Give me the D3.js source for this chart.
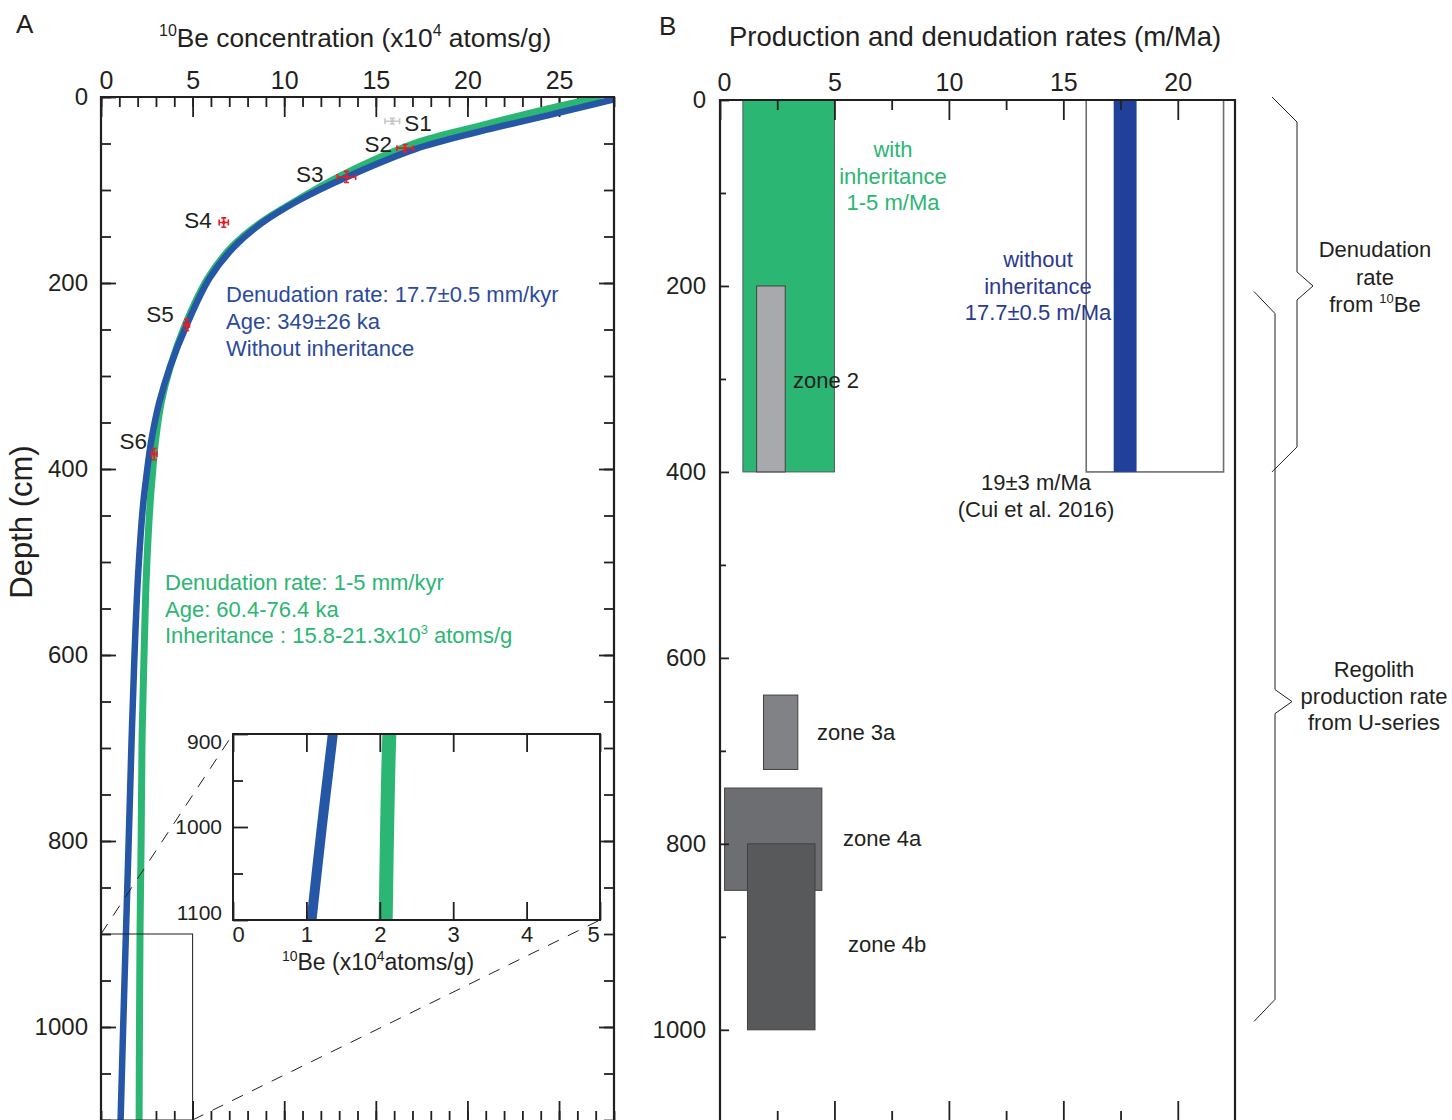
<!DOCTYPE html>
<html>
<head>
<meta charset="utf-8">
<script src="https://cdn.jsdelivr.net/npm/d3@7"></script>
<style>
  body { margin: 0; background: #fff; }
  svg { display: block; }
</style>
</head>
<body>
<div id="chart"></div>
<script>
const INK = "#231f20";
const FONT = "'Liberation Sans', Arial, Helvetica, sans-serif";

// ---- Panel A: 10Be depth profile (x10^4 atoms/g vs depth in cm)
const depthNoInheritance = [0, 7, 20, 37, 56, 87, 111, 136, 161, 195, 245, 290, 329, 369, 412, 440, 512, 584, 656, 691, 794, 900, 1000, 1100];
const concNoInheritance = [28.6, 27.06, 24.33, 20.69, 17.15, 13.3, 10.8, 8.75, 7.27, 5.92, 4.68, 3.77, 3.17, 2.75, 2.45, 2.29, 2.03, 1.86, 1.73, 1.67, 1.52, 1.36, 1.21, 1.07];
const depthWithInheritance = [0, 13, 31, 50, 85, 111, 136, 161, 195, 245, 290, 329, 369, 412, 440, 512, 584, 656, 691, 800, 900, 1000, 1100];
const concWithInheritance = [27.3, 24.33, 20.69, 17.1, 13.05, 10.7, 8.65, 7.15, 5.83, 4.6, 3.78, 3.28, 2.98, 2.78, 2.67, 2.48, 2.37, 2.28, 2.24, 2.19, 2.13, 2.1, 2.08];

const sampleNames = ["S1", "S2", "S3", "S4", "S5", "S6"];
const sampleConc = [15.9, 16.6, 13.4, 6.7, 4.68, 2.9];
const sampleDepth = [26, 55, 86, 135, 245, 384];
const sampleConcErr = [0.4, 0.45, 0.5, 0.25, 0.15, 0.15];
const sampleDepthErr = [3, 4, 6, 5, 6, 6];
const sampleUsed = [false, true, true, true, true, true];

const concTicks = [0, 5, 10, 15, 20, 25];
const depthTicks = [0, 200, 400, 600, 800, 1000];
const insetConcTicks = [0, 1, 2, 3, 4, 5];
const insetDepthTicks = [900, 1000, 1100];

// ---- Panel B: production and denudation rates (m/Ma) by depth
const zoneNames = ["with inheritance", "zone 2", "Cui et al. 2016", "without inheritance", "zone 3a", "zone 4a", "zone 4b"];
const zoneRateMin = [1, 1.6, 16, 17.2, 1.9, 0.2, 1.2];
const zoneRateMax = [5, 2.85, 22, 18.2, 3.4, 4.45, 4.15];
const zoneDepthTop = [0, 200, 0, 0, 640, 740, 800];
const zoneDepthBottom = [400, 400, 400, 400, 720, 850, 1000];

const rateTicks = [0, 5, 10, 15, 20];
const rateDepthTicks = [0, 200, 400, 600, 800, 1000];

// brackets on the right (depth ranges)
const braceTop = [0, 206];
const braceBottom = [400, 991];
const braceTip = [200, 647];

// styles
const zoneFill = {
  "with inheritance": "#2bb673", "zone 2": "#a7a9ac", "Cui et al. 2016": "#ffffff",
  "without inheritance": "#21409a", "zone 3a": "#808285", "zone 4a": "#6d6e71", "zone 4b": "#58595b"
};
const zoneStroke = {
  "with inheritance": "#58595b", "zone 2": "#414042", "Cui et al. 2016": "#6d6e71",
  "without inheritance": "none", "zone 3a": "#414042", "zone 4a": "#414042", "zone 4b": "#414042"
};
const GREEN = "#2bb673";
const BLUE_LINE = "#2656a6";
const BLUE_TEXT = "#2b4a9c";
const BLUE_BAR_TEXT = "#2b3990";
const RED = "#ed1c24";

const svg = d3.select("#chart").append("svg")
  .attr("width", 1452).attr("height", 1120)
  .style("font-family", FONT);
const defs = svg.append("defs");

// scales
const xA = d3.scaleLinear().domain([0, 28]).range([101, 614]);
const yA = d3.scaleLinear().domain([0, 1100]).range([97, 1120]);
const xI = d3.scaleLinear().domain([0, 5]).range([233, 600]);
const yI = d3.scaleLinear().domain([900, 1100]).range([734, 920]);
const xB = d3.scaleLinear().domain([0, 22.5]).range([720, 1235]);
const yB = d3.scaleLinear().domain([0, 1097]).range([100, 1120]);
const fmt = d3.format("d");

function drawAxis(axis, transform, fontSize) {
  const g = svg.append("g").attr("transform", transform).call(axis);
  g.select(".domain").remove();
  g.selectAll(".tick line").attr("stroke", INK).attr("stroke-width", 1.8);
  g.selectAll(".tick text").attr("fill", INK)
    .style("font-size", (fontSize || 10) + "px").style("font-family", FONT);
  return g;
}

// text with superscripts: parts beginning with ^ are raised
function richText(x, y, parts, size, anchor, fill) {
  const t = svg.append("text").attr("x", x).attr("y", y)
    .attr("text-anchor", anchor || "start").attr("fill", fill || INK)
    .style("font-size", size + "px");
  let up = false;
  parts.forEach(p => {
    const sup = p[0] === "^";
    const s = t.append("tspan").text(sup ? p.slice(1) : p);
    if (sup) {
      s.style("font-size", Math.round(size * 0.6) + "px").attr("dy", up ? 0 : -size * 0.4);
    } else {
      s.attr("dy", up ? size * 0.4 : 0);
    }
    up = sup;
  });
  return t;
}

function lines(x, y0, step, texts, size, anchor, fill) {
  texts.forEach((txt, i) => {
    svg.append("text").attr("x", x).attr("y", y0 + i * step)
      .attr("text-anchor", anchor).attr("fill", fill)
      .style("font-size", size + "px").text(txt);
  });
}

// ================= PANEL A =================
svg.append("text").attr("x", 16).attr("y", 33).style("font-size", "26px").attr("fill", INK).text("A");
richText(159, 47, ["^10", "Be concentration (x10", "^4", " atoms/g)"], 26.3, "start");
svg.append("text")
  .attr("transform", "translate(32,522) rotate(-90)")
  .attr("text-anchor", "middle").attr("fill", INK)
  .style("font-size", "31px").text("Depth (cm)");

// axes, ticks inward
drawAxis(d3.axisTop(xA).tickValues(d3.range(0, 29)).tickSize(-10).tickFormat(""), `translate(0,${yA(0)})`);
const topA = drawAxis(d3.axisTop(xA).tickValues(concTicks).tickSize(-20).tickPadding(8).tickFormat(fmt), `translate(0,${yA(0)})`, 25);
topA.selectAll(".tick text").filter(d => d === 0).attr("x", 5);
drawAxis(d3.axisBottom(xA).tickValues(d3.range(0, 29)).tickSize(-10).tickFormat(""), `translate(0,${yA(1100) + 1})`);
drawAxis(d3.axisBottom(xA).tickValues(concTicks.slice(1)).tickSize(-20).tickFormat(""), `translate(0,${yA(1100) + 1})`);
drawAxis(d3.axisLeft(yA).tickValues(d3.range(0, 1101, 50)).tickSize(-10).tickFormat(""), `translate(${xA(0)},0)`);
drawAxis(d3.axisLeft(yA).tickValues(depthTicks).tickSize(-15).tickPadding(13).tickFormat(fmt), `translate(${xA(0)},0)`, 24);
drawAxis(d3.axisRight(yA).tickValues(d3.range(0, 1101, 50)).tickSize(-10).tickFormat(""), `translate(${xA(28)},0)`);
drawAxis(d3.axisRight(yA).tickValues(depthTicks).tickSize(-15).tickFormat(""), `translate(${xA(28)},0)`);

defs.append("clipPath").attr("id", "clipA")
  .append("rect").attr("x", xA(0)).attr("y", yA(0))
  .attr("width", xA(28) - xA(0)).attr("height", yA(1100) - yA(0));

const profileNo = depthNoInheritance.map((z, i) => [z, concNoInheritance[i]]);
const profileWith = depthWithInheritance.map((z, i) => [z, concWithInheritance[i]]);

const lineA = d3.line().x(d => xA(d[1])).y(d => yA(d[0])).curve(d3.curveCatmullRom.alpha(0.5));
const curvesA = svg.append("g").attr("clip-path", "url(#clipA)");
curvesA.append("path").attr("d", lineA(profileWith)).attr("fill", "none")
  .attr("stroke", GREEN).attr("stroke-width", 7);
curvesA.append("path").attr("d", lineA(profileNo)).attr("fill", "none")
  .attr("stroke", BLUE_LINE).attr("stroke-width", 6.5);

// frame
svg.append("path")
  .attr("d", `M${xA(0)},${yA(1100) + 2}V${yA(0)}H${xA(28)}V${yA(1100) + 2}`)
  .attr("fill", "none").attr("stroke", INK).attr("stroke-width", 2.2);

// samples with error bars
const samples = sampleNames.map((n, i) => ({
  name: n, c: sampleConc[i], z: sampleDepth[i],
  ec: sampleConcErr[i], ez: sampleDepthErr[i], used: sampleUsed[i]
}));
const sg = svg.append("g");
samples.forEach(s => {
  const col = s.used ? RED : "#c7c8ca";
  const cx = xA(s.c), cy = yA(s.z);
  const x0 = xA(s.c - s.ec), x1 = xA(s.c + s.ec);
  const y0 = yA(s.z - s.ez), y1 = yA(s.z + s.ez);
  const g = sg.append("g").attr("stroke", col).attr("stroke-width", 1.6).attr("fill", "none");
  g.append("path").attr("d", `M${x0},${cy}H${x1}M${x0},${cy - 3}V${cy + 3}M${x1},${cy - 3}V${cy + 3}`);
  g.append("path").attr("d", `M${cx},${y0}V${y1}M${cx - 2.5},${y0}H${cx + 2.5}M${cx - 2.5},${y1}H${cx + 2.5}`);
  sg.append("circle").attr("cx", cx).attr("cy", cy).attr("r", 1.8).attr("fill", col);
});

// sample labels (offset from each point)
const labelDx = [12, -13, -23, -12, -13, -7];
const labelDy = [10, 4, 5, 5, -3, -5];
const labelAnchor = ["start", "end", "end", "end", "end", "end"];
samples.forEach((s, i) => {
  svg.append("text").attr("x", xA(s.c) + labelDx[i]).attr("y", yA(s.z) + labelDy[i])
    .attr("text-anchor", labelAnchor[i]).attr("fill", INK)
    .style("font-size", "22.5px").text(s.name);
});

// annotations
lines(226, 302, 27, ["Denudation rate: 17.7\u00b10.5 mm/kyr", "Age: 349\u00b126 ka", "Without inheritance"], 22, "start", BLUE_TEXT);
lines(165, 590, 26.5, ["Denudation rate: 1-5 mm/kyr", "Age: 60.4-76.4 ka"], 22, "start", GREEN);
richText(165, 643, ["Inheritance : 15.8-21.3x10", "^3", " atoms/g"], 22, "start", GREEN);

// zoom box and connectors
svg.append("rect").attr("x", xA(0)).attr("y", yA(900))
  .attr("width", xA(5) - xA(0)).attr("height", yA(1100) - yA(900))
  .attr("fill", "none").attr("stroke", INK).attr("stroke-width", 1);
svg.append("path")
  .attr("d", `M${xA(0)},${yA(900)}L${xI(0)},${yI(900)}M${xA(5)},${yA(1100)}L${xI(5)},${yI(1100)}`)
  .attr("fill", "none").attr("stroke", INK).attr("stroke-width", 1)
  .attr("stroke-dasharray", "12,10");

// inset
svg.append("rect").attr("x", xI(0)).attr("y", yI(900))
  .attr("width", xI(5) - xI(0)).attr("height", yI(1100) - yI(900)).attr("fill", "#fff");
defs.append("clipPath").attr("id", "clipI")
  .append("rect").attr("x", xI(0)).attr("y", yI(900))
  .attr("width", xI(5) - xI(0)).attr("height", yI(1100) - yI(900));
const lineI = d3.line().x(d => xI(d[1])).y(d => yI(d[0])).curve(d3.curveCatmullRom.alpha(0.5));
const curvesI = svg.append("g").attr("clip-path", "url(#clipI)");
curvesI.append("path").attr("d", lineI(profileWith.filter(d => d[0] >= 691)))
  .attr("fill", "none").attr("stroke", GREEN).attr("stroke-width", 14);
curvesI.append("path").attr("d", lineI(profileNo.filter(d => d[0] >= 691)))
  .attr("fill", "none").attr("stroke", BLUE_LINE).attr("stroke-width", 10);

const insetBottom = drawAxis(d3.axisBottom(xI).tickValues(insetConcTicks).tickSize(-18).tickPadding(6).tickFormat(fmt), `translate(0,${yI(1100)})`, 22);
insetBottom.selectAll(".tick text").filter(d => d === 0).attr("x", 5);
insetBottom.selectAll(".tick text").filter(d => d === 5).attr("x", -7);
drawAxis(d3.axisTop(xI).tickValues(insetConcTicks).tickSize(-18).tickFormat(""), `translate(0,${yI(900)})`);
drawAxis(d3.axisLeft(yI).tickValues([950, 1050]).tickSize(-10).tickFormat(""), `translate(${xI(0)},0)`);
const insetLeft = drawAxis(d3.axisLeft(yI).tickValues(insetDepthTicks).tickSize(-15).tickPadding(11).tickFormat(fmt), `translate(${xI(0)},0)`, 21);
insetLeft.selectAll(".tick text").filter(d => d === 900).attr("y", 8);
insetLeft.selectAll(".tick text").filter(d => d === 1100).attr("y", -7);
svg.append("rect").attr("x", xI(0)).attr("y", yI(900))
  .attr("width", xI(5) - xI(0)).attr("height", yI(1100) - yI(900))
  .attr("fill", "none").attr("stroke", INK).attr("stroke-width", 2);
richText(378, 970, ["^10", "Be (x10", "^4", "atoms/g)"], 23, "middle");

// ================= PANEL B =================
svg.append("text").attr("x", 659).attr("y", 35).style("font-size", "26px").attr("fill", INK).text("B");
svg.append("text").attr("x", 975).attr("y", 46).attr("text-anchor", "middle")
  .attr("fill", INK).style("font-size", "27.5px").text("Production and denudation rates (m/Ma)");

const zones = zoneNames.map((n, i) => ({
  name: n, r0: zoneRateMin[i], r1: zoneRateMax[i], d0: zoneDepthTop[i], d1: zoneDepthBottom[i]
}));
svg.append("g").selectAll("rect").data(zones).join("rect")
  .attr("x", d => xB(d.r0)).attr("y", d => yB(d.d0))
  .attr("width", d => xB(d.r1) - xB(d.r0)).attr("height", d => yB(d.d1) - yB(d.d0))
  .attr("fill", d => zoneFill[d.name]).attr("stroke", d => zoneStroke[d.name])
  .attr("stroke-width", d => d.name === "Cui et al. 2016" ? 1.6 : 1);

drawAxis(d3.axisTop(xB).tickValues(d3.range(2.5, 22.5, 5)).tickSize(-10).tickFormat(""), `translate(0,${yB(0)})`);
const topB = drawAxis(d3.axisTop(xB).tickValues(rateTicks).tickSize(-20).tickPadding(9).tickFormat(fmt), `translate(0,${yB(0)})`, 25);
topB.selectAll(".tick text").filter(d => d === 0).attr("x", 4);
drawAxis(d3.axisBottom(xB).tickValues(d3.range(2.5, 22.5, 5)).tickSize(-10).tickFormat(""), `translate(0,1121)`);
drawAxis(d3.axisBottom(xB).tickValues(rateTicks.slice(1)).tickSize(-20).tickFormat(""), `translate(0,1121)`);
drawAxis(d3.axisLeft(yB).tickValues(d3.range(100, 1100, 200)).tickSize(-6).tickFormat(""), `translate(${xB(0)},0)`);
drawAxis(d3.axisLeft(yB).tickValues(rateDepthTicks).tickSize(-9).tickPadding(14).tickFormat(fmt), `translate(${xB(0)},0)`, 24);

svg.append("path")
  .attr("d", `M${xB(0)},1122V${yB(0)}H${xB(22.5)}V1122`)
  .attr("fill", "none").attr("stroke", INK).attr("stroke-width", 2.2);

// labels panel B
lines(893, 157, 26.5, ["with", "inheritance", "1-5 m/Ma"], 22, "middle", GREEN);
lines(1038, 267, 26.5, ["without", "inheritance", "17.7\u00b10.5 m/Ma"], 22, "middle", BLUE_BAR_TEXT);
lines(1036, 490, 27, ["19\u00b13 m/Ma", "(Cui et al. 2016)"], 22, "middle", INK);
const zoneLabelX = [793, 817, 843, 848];
const zoneLabelY = [388, 740, 846, 952];
["zone 2", "zone 3a", "zone 4a", "zone 4b"].forEach((n, i) => {
  svg.append("text").attr("x", zoneLabelX[i]).attr("y", zoneLabelY[i])
    .attr("fill", INK).style("font-size", "22px").text(n);
});

// braces
const braceEndX = [1272, 1254];
const braceSpineX = [1297, 1275];
const braceTipX = [1313, 1292];
const braceArm = [25, 22];
const braceTipArm = [14, 12];
braceTop.forEach((t, i) => {
  const yt = yB(t) - (i === 0 ? 3 : 0), yb = yB(braceBottom[i]), yp = yB(braceTip[i]);
  svg.append("path")
    .attr("d", `M${braceEndX[i]},${yt}L${braceSpineX[i]},${yt + braceArm[i]}V${yp - braceTipArm[i]}` +
      `L${braceTipX[i]},${yp}L${braceSpineX[i]},${yp + braceTipArm[i]}V${yb - braceArm[i]}L${braceEndX[i]},${yb}`)
    .attr("fill", "none").attr("stroke", INK).attr("stroke-width", 1);
});
lines(1375, 257, 27.5, ["Denudation", "rate"], 22, "middle", INK);
richText(1375, 312, ["from ", "^10", "Be"], 22, "middle");
lines(1374, 677, 26.5, ["Regolith", "production rate", "from U-series"], 22, "middle", INK);
</script>
</body>
</html>
